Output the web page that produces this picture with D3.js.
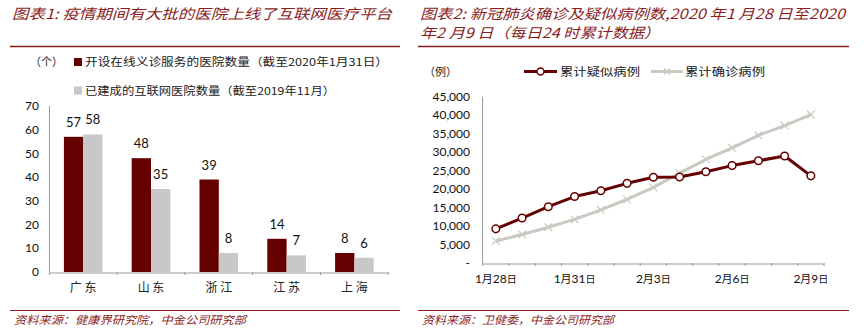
<!DOCTYPE html>
<html>
<head>
<meta charset="utf-8">
<script src="https://cdn.jsdelivr.net/npm/d3@7/dist/d3.min.js"></script>
<style>
  html, body { margin: 0; padding: 0; background: #fff; }
  svg { display: block; }
</style>
</head>
<body>
<svg id="chart" width="864" height="329"></svg>
<script>
// ---- Figure 1: hospitals offering online services, by province ----
const provinces = ["广东", "山东", "浙江", "江苏", "上海"];
const seriesNames = ["开设在线义诊服务的医院数量（截至2020年1月31日）", "已建成的互联网医院数量（截至2019年11月）"];
const onlineConsult = [57, 48, 39, 14, 8];
const internetHospitals = [58, 35, 8, 7, 6];
const barTicks = [0, 10, 20, 30, 40, 50, 60, 70];

// ---- Figure 2: cumulative suspected / confirmed cases ----
const dates = ["1月28日", "1月29日", "1月30日", "1月31日", "2月1日", "2月2日", "2月3日",
               "2月4日", "2月5日", "2月6日", "2月7日", "2月8日", "2月9日"];
const suspected = [9239, 12167, 15238, 17988, 19544, 21558, 23214, 23260, 24702, 26359, 27657, 28942, 23589];
const confirmed = [5974, 7711, 9692, 11791, 14380, 17205, 20438, 24324, 28018, 31161, 34546, 37198, 40171];
const lineNames = ["累计疑似病例", "累计确诊病例"];
const caseTicks = [0, 5000, 10000, 15000, 20000, 25000, 30000, 35000, 40000, 45000];
const dateLabels = ["1月28日", "1月31日", "2月3日", "2月6日", "2月9日"];

const RED = "#650000";
const TITLE_RED = "#8a1c1c";
const GREY_BAR = "#c8c8c8";
const GREY_LINE = "#c9c9c1";
const AXIS = "#9a9a9a";
const CJK = "'Noto Sans CJK SC', 'Noto Sans', sans-serif";
const NUM = "Lato, 'Open Sans', sans-serif";

const svg = d3.select("#chart");

// Header / footer decorations
function panelFrame(x0, x1, titleLines, source) {
  titleLines.forEach(t => {
    svg.append("text")
      .attr("x", x0 + 2).attr("y", t.y)
      .attr("textLength", t.len).attr("lengthAdjust", "spacingAndGlyphs")
      .style("font-family", CJK).style("font-size", "14px").style("font-style", "italic")
      .style("fill", TITLE_RED)
      .text(t.text);
  });
  svg.append("line").attr("x1", x0).attr("x2", x1).attr("y1", 46.5).attr("y2", 46.5)
    .attr("stroke", TITLE_RED).attr("stroke-width", 1.4);
  svg.append("line").attr("x1", x0).attr("x2", x1).attr("y1", 310.5).attr("y2", 310.5)
    .attr("stroke", TITLE_RED).attr("stroke-width", 1.2);
  svg.append("text")
    .attr("x", x0 + 4).attr("y", 324)
    .attr("textLength", source.len).attr("lengthAdjust", "spacingAndGlyphs")
    .style("font-family", CJK).style("font-size", "11px").style("font-style", "italic")
    .style("fill", TITLE_RED)
    .text(source.text);
}

panelFrame(10, 400,
  [{ text: "图表1: 疫情期间有大批的医院上线了互联网医疗平台", y: 19, len: 380 }],
  { text: "资料来源：健康界研究院，中金公司研究部", len: 232 });

panelFrame(418, 849,
  [{ text: "图表2: 新冠肺炎确诊及疑似病例数,2020 年1 月28 日至2020", y: 19, len: 425 },
   { text: "年2 月9 日（每日24 时累计数据）", y: 38, len: 240 }],
  { text: "资料来源：卫健委，中金公司研究部", len: 192 });

// ---------------- Bar chart ----------------
const bx = d3.scaleBand().domain(provinces).range([49.3, 388.3]).paddingInner(0).paddingOuter(0);
const bx1 = d3.scaleBand().domain([0, 1]).range([0, bx.bandwidth()]).paddingInner(0).paddingOuter(0.756);
const by = d3.scaleLinear().domain([0, 70]).range([272, 106]);

const barG = svg.append("g");

// y axis line and labels
barG.append("line").attr("x1", 49.5).attr("x2", 49.5).attr("y1", by(70)).attr("y2", by(0))
  .attr("stroke", AXIS).attr("stroke-width", 1);
barG.selectAll(".yl").data(barTicks).join("text")
  .attr("x", 39).attr("y", d => by(d)).attr("dy", "0.35em")
  .attr("text-anchor", "end")
  .style("font-family", NUM).style("font-size", "12px").style("fill", "#111")
  .text(d => d);

// bars
const barData = provinces.map((p, i) => [onlineConsult[i], internetHospitals[i]]);
const groups = barG.selectAll(".grp").data(provinces).join("g")
  .attr("transform", d => `translate(${bx(d)},0)`);
groups.selectAll("rect").data((d, i) => barData[i].map((v, k) => ({ v, k }))).join("rect")
  .attr("x", d => bx1(d.k)).attr("width", bx1.bandwidth())
  .attr("y", d => by(d.v)).attr("height", d => by(0) - by(d.v))
  .attr("fill", d => d.k === 0 ? RED : GREY_BAR);
groups.selectAll(".val").data((d, i) => barData[i].map((v, k) => ({ v, k }))).join("text")
  .attr("x", d => bx1(d.k) + bx1.bandwidth() / 2)
  .attr("y", d => by(d.v) - 10)
  .attr("text-anchor", "middle")
  .style("font-family", NUM).style("font-size", "13px").style("fill", "#111")
  .text(d => d.v);

// x axis
const bxAxis = d3.axisBottom(bx).tickSize(0).tickFormat(() => "");
const bxg = barG.append("g").attr("transform", `translate(0,${by(0) + 0.5})`).call(bxAxis);
bxg.select(".domain").attr("stroke", AXIS);
const bTickPos = provinces.map(p => bx(p)).concat([bx.range()[1]]);
barG.selectAll(".bt").data(bTickPos).join("line")
  .attr("x1", d => d).attr("x2", d => d).attr("y1", by(0)).attr("y2", by(0) + 3)
  .attr("stroke", AXIS);
barG.selectAll(".cl").data(provinces).join("text")
  .attr("x", d => bx(d) + bx.bandwidth() / 2).attr("y", 292)
  .attr("text-anchor", "middle")
  .style("font-family", CJK).style("font-size", "12px").style("fill", "#222")
  .text(d => d.split("").join(" "));

// legend
barG.append("text").attr("x", 30).attr("y", 66)
  .style("font-family", CJK).style("font-size", "11px").style("fill", "#222").text("（个）");
[RED, GREY_BAR].forEach((c, i) => {
  barG.append("rect").attr("x", 74).attr("y", 58 + i * 28.5).attr("width", 8).attr("height", 8).attr("fill", c);
  barG.append("text").attr("x", 85).attr("y", 66 + i * 28.5)
    .attr("textLength", i === 0 ? 303 : 250).attr("lengthAdjust", "spacingAndGlyphs")
    .style("font-family", CJK).style("font-size", "11px").style("fill", "#222")
    .text(seriesNames[i]);
});

// ---------------- Line chart ----------------
const lx = d3.scaleBand().domain(dates).range([482.7, 824]);
const lxc = d => lx(d) + lx.bandwidth() / 2;
const ly = d3.scaleLinear().domain([0, 45000]).range([263, 96.7]);

const lineG = svg.append("g");
lineG.append("line").attr("x1", 482.5).attr("x2", 482.5).attr("y1", ly(45000)).attr("y2", ly(0))
  .attr("stroke", AXIS);
lineG.selectAll(".yl").data(caseTicks).join("text")
  .attr("x", 470).attr("y", d => ly(d)).attr("dy", "0.35em")
  .attr("text-anchor", "end")
  .style("font-family", NUM).style("font-size", "12px").style("fill", "#111")
  .text(d => d === 0 ? "-" : d3.format(",")(d));

const lxg = lineG.append("g").attr("transform", `translate(0,${ly(0) + 0.5})`)
  .call(d3.axisBottom(lx).tickSize(0).tickFormat(() => ""));
lxg.select(".domain").attr("stroke", AXIS);
const lTickPos = dates.map(d => lx(d)).concat([lx.range()[1]]);
lineG.selectAll(".lt").data(lTickPos).join("line")
  .attr("x1", d => d).attr("x2", d => d).attr("y1", ly(0)).attr("y2", ly(0) + 3)
  .attr("stroke", AXIS);

// date labels: number part in Latin font, "月"/"日" in CJK
const dl = lineG.selectAll(".dl").data(dateLabels).join("text")
  .attr("x", d => lxc(d)).attr("y", 283)
  .attr("text-anchor", "middle")
  .style("font-size", "12px").style("fill", "#111");
dl.each(function (d) {
  const parts = d.match(/(\d+)(月)(\d+)(日)/);
  const t = d3.select(this);
  t.append("tspan").style("font-family", NUM).text(parts[1]);
  t.append("tspan").style("font-family", CJK).style("font-size", "11px").text(parts[2]);
  t.append("tspan").style("font-family", NUM).text(parts[3]);
  t.append("tspan").style("font-family", CJK).style("font-size", "10px").text(parts[4]);
});

const line = d3.line().x((d, i) => lxc(dates[i])).y(d => ly(d));

// confirmed (grey, x markers)
lineG.append("path").datum(confirmed).attr("d", line)
  .attr("fill", "none").attr("stroke", GREY_LINE).attr("stroke-width", 3).attr("stroke-linejoin", "round");
const xMark = (g, cx, cy, s) => {
  g.append("path")
    .attr("d", `M${cx - s},${cy - s}L${cx + s},${cy + s}M${cx - s},${cy + s}L${cx + s},${cy - s}`)
    .attr("stroke", GREY_LINE).attr("stroke-width", 1.2).attr("fill", "none");
};
confirmed.forEach((v, i) => xMark(lineG, lxc(dates[i]), ly(v), 3.8));

// suspected (dark red, hollow circles)
lineG.append("path").datum(suspected).attr("d", line)
  .attr("fill", "none").attr("stroke", RED).attr("stroke-width", 3).attr("stroke-linejoin", "round");
lineG.selectAll(".pt").data(suspected).join("circle")
  .attr("cx", (d, i) => lxc(dates[i])).attr("cy", d => ly(d)).attr("r", 3.8)
  .attr("fill", "#fff").attr("stroke", RED).attr("stroke-width", 1.5);

// legend
lineG.append("text").attr("x", 424).attr("y", 76)
  .style("font-family", CJK).style("font-size", "11px").style("fill", "#222").text("（例）");
lineG.append("line").attr("x1", 524).attr("x2", 557).attr("y1", 71.5).attr("y2", 71.5)
  .attr("stroke", RED).attr("stroke-width", 3);
lineG.append("circle").attr("cx", 540.5).attr("cy", 71.5).attr("r", 3.5)
  .attr("fill", "#fff").attr("stroke", RED).attr("stroke-width", 1.5);
lineG.append("text").attr("x", 560).attr("y", 76)
  .attr("textLength", 80).attr("lengthAdjust", "spacingAndGlyphs")
  .style("font-family", CJK).style("font-size", "11px").style("fill", "#222").text(lineNames[0]);
lineG.append("line").attr("x1", 651).attr("x2", 683).attr("y1", 71.5).attr("y2", 71.5)
  .attr("stroke", GREY_LINE).attr("stroke-width", 3);
xMark(lineG, 667, 71.5, 3);
lineG.append("text").attr("x", 685).attr("y", 76)
  .attr("textLength", 80).attr("lengthAdjust", "spacingAndGlyphs")
  .style("font-family", CJK).style("font-size", "11px").style("fill", "#222").text(lineNames[1]);
</script>
</body>
</html>
